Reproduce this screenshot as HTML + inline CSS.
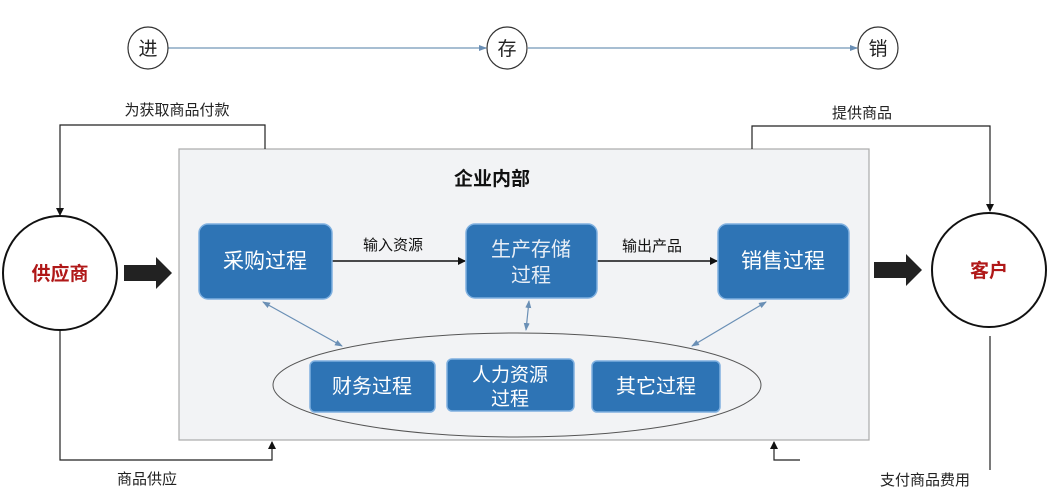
<!DOCTYPE html>
<html><head><meta charset="utf-8"><style>
html,body{margin:0;padding:0;background:#fff;}
svg{display:block;font-family:"Liberation Sans","Noto Sans CJK SC",sans-serif;}
</style></head><body>
<svg width="1049" height="500" viewBox="0 0 1049 500" xmlns="http://www.w3.org/2000/svg">
<defs>
<marker id="ab" markerWidth="8" markerHeight="8" refX="7" refY="4" orient="auto" markerUnits="userSpaceOnUse"><path d="M0,0 L8,4 L0,8 z" fill="#111"/></marker>
<marker id="ag" markerWidth="8" markerHeight="8" refX="7" refY="4" orient="auto" markerUnits="userSpaceOnUse"><path d="M0,1 L8,4 L0,7 z" fill="#6a8fb5"/></marker>
<marker id="ag2" markerWidth="8" markerHeight="8" refX="1" refY="4" orient="auto" markerUnits="userSpaceOnUse"><path d="M8,1 L0,4 L8,7 z" fill="#6a8fb5"/></marker>
</defs>
<!-- top row -->
<line x1="168" y1="48" x2="486" y2="48" stroke="#8aa8c4" stroke-width="1.5" marker-end="url(#ag)"/>
<line x1="528" y1="48" x2="857" y2="48" stroke="#8aa8c4" stroke-width="1.5" marker-end="url(#ag)"/>
<ellipse cx="148" cy="48" rx="20" ry="21" fill="#fff" stroke="#333" stroke-width="1.2"/>
<ellipse cx="507" cy="48" rx="20" ry="21" fill="#fff" stroke="#333" stroke-width="1.2"/>
<ellipse cx="878" cy="48" rx="20" ry="21" fill="#fff" stroke="#333" stroke-width="1.2"/>
<text x="148" y="55" font-size="19" text-anchor="middle" fill="#222">进</text>
<text x="507" y="55" font-size="19" text-anchor="middle" fill="#222">存</text>
<text x="878" y="55" font-size="19" text-anchor="middle" fill="#222">销</text>
<!-- gray box -->
<rect x="179" y="149" width="690" height="291" fill="#f2f3f5" stroke="#aaa" stroke-width="1.2"/>
<text x="492" y="185" font-size="19" font-weight="bold" text-anchor="middle" fill="#111">企业内部</text>
<!-- outer connectors -->
<polyline points="265,149 265,125 60,125 60,215" fill="none" stroke="#222" stroke-width="1.2" marker-end="url(#ab)"/>
<polyline points="60,331 60,460 272,460 272,442" fill="none" stroke="#222" stroke-width="1.2" marker-end="url(#ab)"/>
<polyline points="752,149 752,126 990,126 990,211" fill="none" stroke="#222" stroke-width="1.2" marker-end="url(#ab)"/>
<line x1="990" y1="336" x2="990" y2="470" stroke="#222" stroke-width="1.2"/>
<polyline points="800,460 774,460 774,442" fill="none" stroke="#222" stroke-width="1.2" marker-end="url(#ab)"/>
<text x="177" y="115" font-size="15" text-anchor="middle" fill="#222">为获取商品付款</text>
<text x="147" y="484" font-size="15" text-anchor="middle" fill="#222">商品供应</text>
<text x="862" y="118" font-size="15" text-anchor="middle" fill="#222">提供商品</text>
<text x="925" y="485" font-size="15" text-anchor="middle" fill="#222">支付商品费用</text>
<!-- circles -->
<circle cx="60" cy="273" r="57" fill="#fff" stroke="#111" stroke-width="2"/>
<text x="60" y="280" font-size="19" font-weight="bold" text-anchor="middle" fill="#b01818">供应商</text>
<circle cx="989" cy="270" r="57" fill="#fff" stroke="#111" stroke-width="2"/>
<text x="989" y="277" font-size="19" font-weight="bold" text-anchor="middle" fill="#b01818">客户</text>
<!-- big arrows -->
<path d="M124,265 L156,265 L156,257 L172,273 L156,289 L156,281 L124,281 z" fill="#222"/>
<path d="M874,262 L906,262 L906,254 L922,270 L906,286 L906,278 L874,278 z" fill="#222"/>
<!-- process arrows -->
<line x1="332" y1="261" x2="465" y2="261" stroke="#111" stroke-width="1.5" marker-end="url(#ab)"/>
<line x1="597" y1="261" x2="717" y2="261" stroke="#111" stroke-width="1.5" marker-end="url(#ab)"/>
<text x="393" y="250" font-size="15" text-anchor="middle" fill="#111">输入资源</text>
<text x="652" y="251" font-size="15" text-anchor="middle" fill="#111">输出产品</text>
<!-- main boxes -->
<rect x="199" y="224" width="133" height="75" rx="9" fill="#2e74b5" stroke="#7fb0e0" stroke-width="1.5"/>
<text x="265" y="268" font-size="21" text-anchor="middle" fill="#fff">采购过程</text>
<rect x="466" y="224" width="131" height="74" rx="9" fill="#2e74b5" stroke="#7fb0e0" stroke-width="1.5"/>
<text x="531" y="256" font-size="20" text-anchor="middle" fill="#e8eef6">生产存储</text>
<text x="531" y="282" font-size="20" text-anchor="middle" fill="#e8eef6">过程</text>
<rect x="718" y="224" width="131" height="75" rx="9" fill="#2e74b5" stroke="#7fb0e0" stroke-width="1.5"/>
<text x="783" y="268" font-size="21" text-anchor="middle" fill="#fff">销售过程</text>
<!-- ellipse -->
<ellipse cx="517" cy="385" rx="244" ry="52" fill="none" stroke="#555" stroke-width="1"/>
<line x1="263" y1="302" x2="342" y2="346" stroke="#6a8fb5" stroke-width="1.2" marker-start="url(#ag2)" marker-end="url(#ag)"/>
<line x1="529" y1="301" x2="526" y2="330" stroke="#6a8fb5" stroke-width="1.2" marker-start="url(#ag2)" marker-end="url(#ag)"/>
<line x1="766" y1="302" x2="692" y2="346" stroke="#6a8fb5" stroke-width="1.2" marker-start="url(#ag2)" marker-end="url(#ag)"/>
<rect x="310" y="361" width="125" height="51" rx="5" fill="#2e74b5" stroke="#7fb0e0" stroke-width="1.5"/>
<text x="372" y="393" font-size="20" text-anchor="middle" fill="#fff">财务过程</text>
<rect x="447" y="359" width="127" height="52" rx="5" fill="#2e74b5" stroke="#7fb0e0" stroke-width="1.5"/>
<text x="510" y="381" font-size="19" text-anchor="middle" fill="#fff">人力资源</text>
<text x="510" y="405" font-size="19" text-anchor="middle" fill="#fff">过程</text>
<rect x="592" y="361" width="128" height="51" rx="5" fill="#2e74b5" stroke="#7fb0e0" stroke-width="1.5"/>
<text x="656" y="393" font-size="20" text-anchor="middle" fill="#fff">其它过程</text>
</svg>
</body></html>
